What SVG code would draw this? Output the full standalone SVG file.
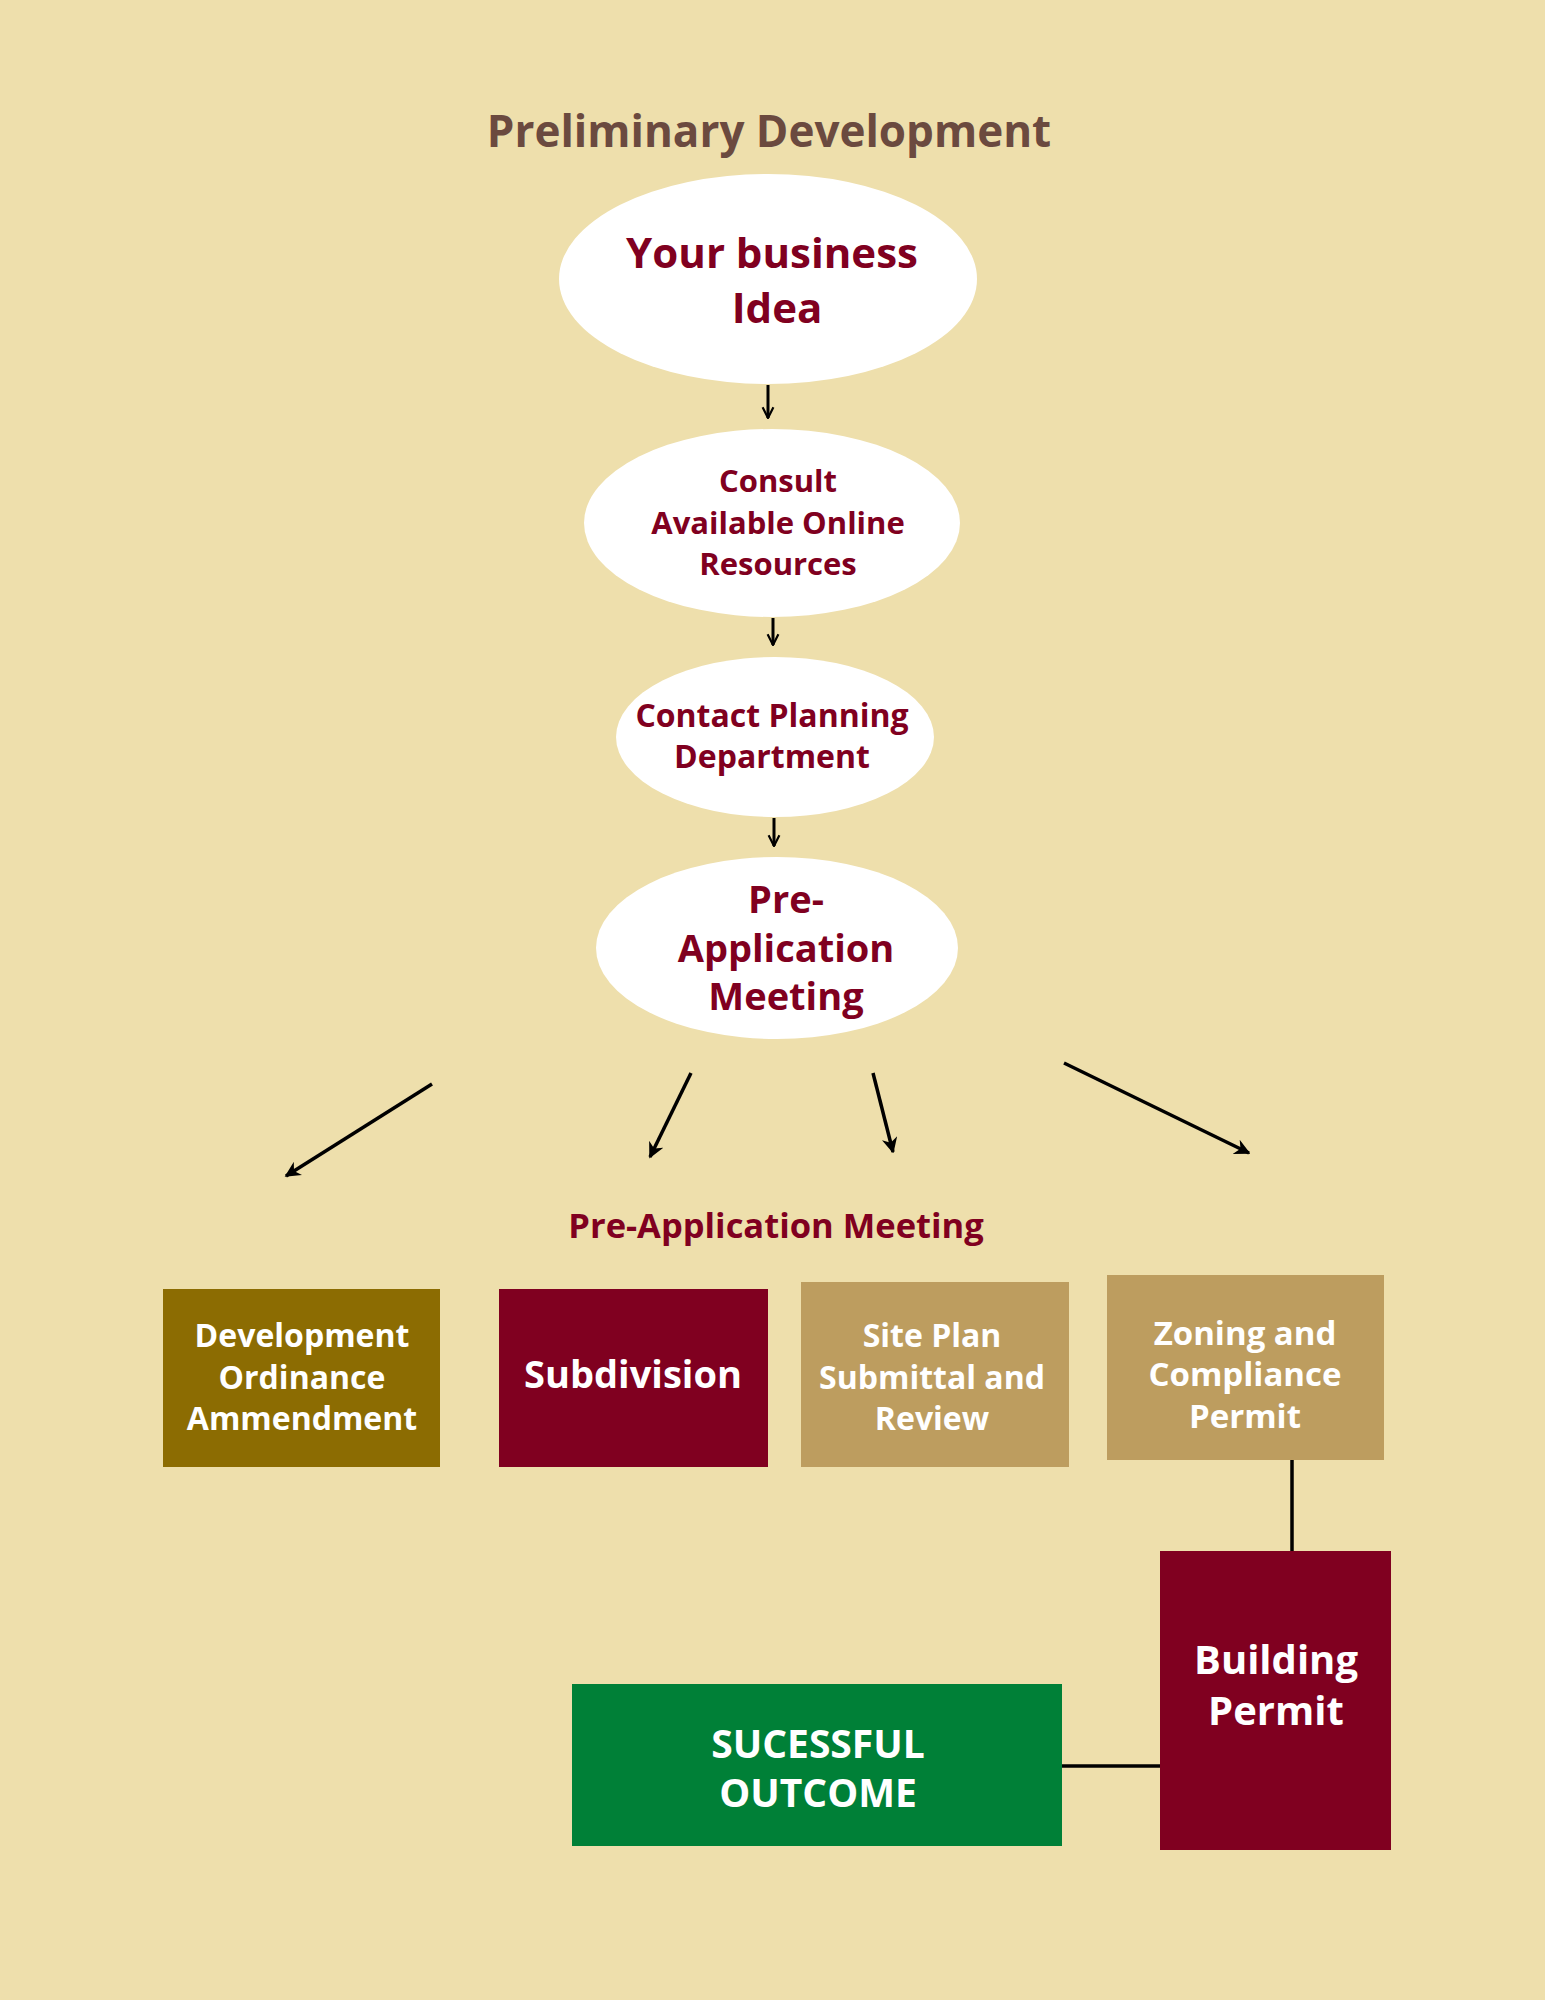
<svg xmlns="http://www.w3.org/2000/svg" width="1545" height="2000" viewBox="0 0 1545 2000">
<defs>
<style>
.bg{fill:#EEDFAC}
.ell{fill:#FFFFFF}
.et{font-family:"Open Sans","Liberation Sans",sans-serif;font-weight:700;fill:#800020;text-anchor:middle}
.bt{font-family:"Open Sans","Liberation Sans",sans-serif;font-weight:700;fill:#FFFFFF;text-anchor:middle}
.title{font-family:"Open Sans","Liberation Sans",sans-serif;font-weight:700;fill:#6B4A3F;text-anchor:middle;font-size:44px}
.conn{stroke:#000000;stroke-width:3;fill:none}
.line{stroke:#000000;stroke-width:3.5;fill:none}
</style>
<marker id="ah" viewBox="0 0 10 10" refX="9" refY="5" markerWidth="4.5" markerHeight="4.5" orient="auto" markerUnits="strokeWidth">
<path d="M0,0 L10,5 L0,10 L3,5 Z" fill="#000000"/>
</marker>
<marker id="av" viewBox="0 0 10 10" refX="9" refY="5" markerWidth="4.5" markerHeight="4.5" orient="auto" markerUnits="strokeWidth">
<path d="M1,1 L9,5 L1,9" fill="none" stroke="#000000" stroke-width="1.6"/>
</marker>
</defs>
<rect class="bg" x="0" y="0" width="1545" height="2000"/>
<text class="title" x="769" y="147">Preliminary Development</text>

<g id="connectors">
<line class="conn" x1="768" y1="385" x2="768" y2="418" marker-end="url(#av)"/>
<line class="conn" x1="773" y1="618" x2="773" y2="645" marker-end="url(#av)"/>
<line class="conn" x1="774" y1="818" x2="774" y2="846" marker-end="url(#av)"/>
<line class="line" x1="432" y1="1084" x2="286" y2="1176" marker-end="url(#ah)"/>
<line class="line" x1="691" y1="1073" x2="650" y2="1157" marker-end="url(#ah)"/>
<line class="line" x1="873" y1="1073" x2="893" y2="1152" marker-end="url(#ah)"/>
<line class="line" x1="1064" y1="1063" x2="1249" y2="1153" marker-end="url(#ah)"/>
<line class="line" x1="1292" y1="1460" x2="1292" y2="1551"/>
<line class="line" x1="1062" y1="1766" x2="1160" y2="1766"/>
</g>

<g id="idea">
<ellipse class="ell" cx="768" cy="279" rx="209" ry="105"/>
<text class="et" x="772" y="268" font-size="42">Your business</text>
<text class="et" x="777" y="323" font-size="42">Idea</text>
</g>

<g id="consult">
<ellipse class="ell" cx="772" cy="523" rx="188" ry="94"/>
<text class="et" x="778" y="492" font-size="31">Consult</text>
<text class="et" x="778" y="534" font-size="31">Available Online</text>
<text class="et" x="778" y="575" font-size="31">Resources</text>
</g>

<g id="contact">
<ellipse class="ell" cx="775" cy="737" rx="159" ry="80"/>
<text class="et" x="772" y="727" font-size="32">Contact Planning</text>
<text class="et" x="772" y="768" font-size="32">Department</text>
</g>

<g id="preapp">
<ellipse class="ell" cx="777" cy="948" rx="181" ry="91"/>
<text class="et" x="786" y="913" font-size="38">Pre-</text>
<text class="et" x="786" y="962" font-size="38">Application</text>
<text class="et" x="786" y="1010" font-size="38">Meeting</text>
</g>

<g id="label">
<text class="et" x="776" y="1238" font-size="34.5">Pre-Application Meeting</text>
</g>

<g id="ordinance">
<rect x="163" y="1289" width="277" height="178" fill="#8C6C02"/>
<text class="bt" x="302" y="1347" font-size="32">Development</text>
<text class="bt" x="302" y="1389" font-size="32">Ordinance</text>
<text class="bt" x="302" y="1430" font-size="32">Ammendment</text>
</g>

<g id="subdivision">
<rect x="499" y="1289" width="269" height="178" fill="#800020"/>
<text class="bt" x="633" y="1388" font-size="38">Subdivision</text>
</g>

<g id="siteplan">
<rect x="801" y="1282" width="268" height="185" fill="#BD9D5F"/>
<text class="bt" x="932" y="1347" font-size="32">Site Plan</text>
<text class="bt" x="932" y="1389" font-size="32">Submittal and</text>
<text class="bt" x="932" y="1430" font-size="32">Review</text>
</g>

<g id="zoning">
<rect x="1107" y="1275" width="277" height="185" fill="#BD9D5F"/>
<text class="bt" x="1245" y="1345" font-size="33">Zoning and</text>
<text class="bt" x="1245" y="1386" font-size="33">Compliance</text>
<text class="bt" x="1245" y="1428" font-size="33">Permit</text>
</g>

<g id="building">
<rect x="1160" y="1551" width="231" height="299" fill="#800020"/>
<text class="bt" x="1276" y="1674" font-size="40">Building</text>
<text class="bt" x="1276" y="1725" font-size="40">Permit</text>
</g>

<g id="outcome">
<rect x="572" y="1684" width="490" height="162" fill="#008037"/>
<text class="bt" x="818" y="1758" font-size="39">SUCESSFUL</text>
<text class="bt" x="818" y="1807" font-size="39">OUTCOME</text>
</g>
</svg>
